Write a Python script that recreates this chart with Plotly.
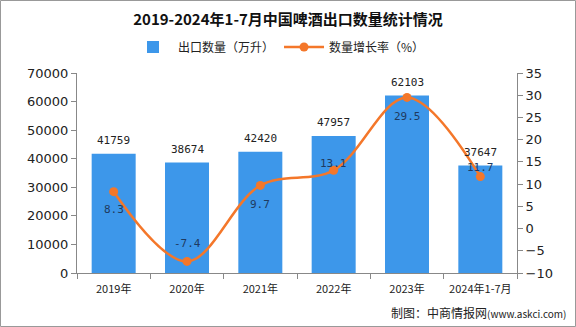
import plotly.graph_objects as go

categories = ["2019年", "2020年", "2021年", "2022年", "2023年", "2024年1-7月"]
export_volume = [41759, 38674, 42420, 47957, 62103, 37647]
growth_rate = [8.3, -7.4, 9.7, 13.1, 29.5, 11.7]

# label offsets (px) for growth-rate labels relative to their points
rate_label_shift = [-18, 18, -19, 7, -19, 9]

W, H = 576, 327
L, R, T, B = 77, 59, 73, 54
pw, ph = W - L - R, H - T - B

def px(x):
    return (x - L) / pw

def py(y):
    return (H - B - y) / ph

fig = go.Figure()
fig.add_trace(go.Bar(
    x=categories, y=export_volume, name="出口数量（万升）",
    marker=dict(color="#3D97EA", line=dict(width=0)), width=0.6,
))
fig.add_trace(go.Scatter(
    x=categories, y=growth_rate, name="数量增长率（%）", yaxis="y2",
    mode="lines+markers", line=dict(color="#F4772A", width=2.5, shape="spline", smoothing=1.0),
    marker=dict(color="#F4772A", size=9),
    cliponaxis=False,
))

for c, v in zip(categories, export_volume):
    fig.add_annotation(x=c, y=v, xref="x", yref="y", text=str(v), showarrow=False,
                       yanchor="middle", yshift=13,
                       font=dict(size=11, color="#222222", family="DejaVu Sans Mono"))

for c, v, s in zip(categories, growth_rate, rate_label_shift):
    fig.add_annotation(x=c, y=v, xref="x", yref="y2", text=str(v), showarrow=False,
                       yanchor="middle", yshift=s,
                       font=dict(size=11, color="#1F3A60", family="DejaVu Sans Mono"))

fig.update_layout(
    width=W, height=H, margin=dict(l=L, r=R, t=T, b=B),
    paper_bgcolor="white", plot_bgcolor="white",
    title=dict(text="<b>2019-2024年1-7月中国啤酒出口数量统计情况</b>", x=0.5, xanchor="center",
               y=1 - 20 / H, yanchor="middle",
               font=dict(size=15, color="#111111", family="Noto Sans CJK SC")),
    legend=dict(orientation="h", x=px(128), xanchor="left", y=py(47), yanchor="middle",
                font=dict(size=12, color="#222222", family="Noto Sans CJK SC"),
                itemwidth=40, bgcolor="rgba(0,0,0,0)"),
    showlegend=True,
    bargap=0.4,
    xaxis=dict(showline=True, linecolor="#888888", linewidth=1, ticks="outside", tickson="boundaries",
               tickcolor="#888888", ticklen=5, showgrid=False, ticklabelstandoff=6,
               tickfont=dict(size=11, color="#222222", family="Noto Sans CJK SC")),
    yaxis=dict(range=[0, 70000], dtick=10000, tickformat="d", showline=True, linecolor="#888888", linewidth=1,
               ticks="outside", tickcolor="#888888", ticklen=5, showgrid=False, zeroline=False,
               tickfont=dict(size=13, color="#222222", family="DejaVu Sans")),
    yaxis2=dict(range=[-10, 35], dtick=5, overlaying="y", side="right", showline=True,
                linecolor="#888888", linewidth=1, ticks="outside", tickcolor="#888888", ticklen=5,
                showgrid=False, zeroline=False,
                tickfont=dict(size=13, color="#222222", family="DejaVu Sans")),
    font=dict(family="Noto Sans CJK SC"),
)

fig.add_annotation(text="制图：中商情报网<span style='font-size:10px'>(www.askci.com)</span>",
                   xref="paper", yref="paper", x=px(568), y=py(312), xanchor="right", yanchor="middle",
                   showarrow=False, font=dict(size=12, color="#222222", family="Noto Sans CJK SC"))

fig.add_shape(type="rect", xref="paper", yref="paper", x0=px(0.5), x1=px(575.5), y0=py(326.5), y1=py(0.5),
              line=dict(color="#999999", width=1), layer="above")

fig.write_html("out.html")
